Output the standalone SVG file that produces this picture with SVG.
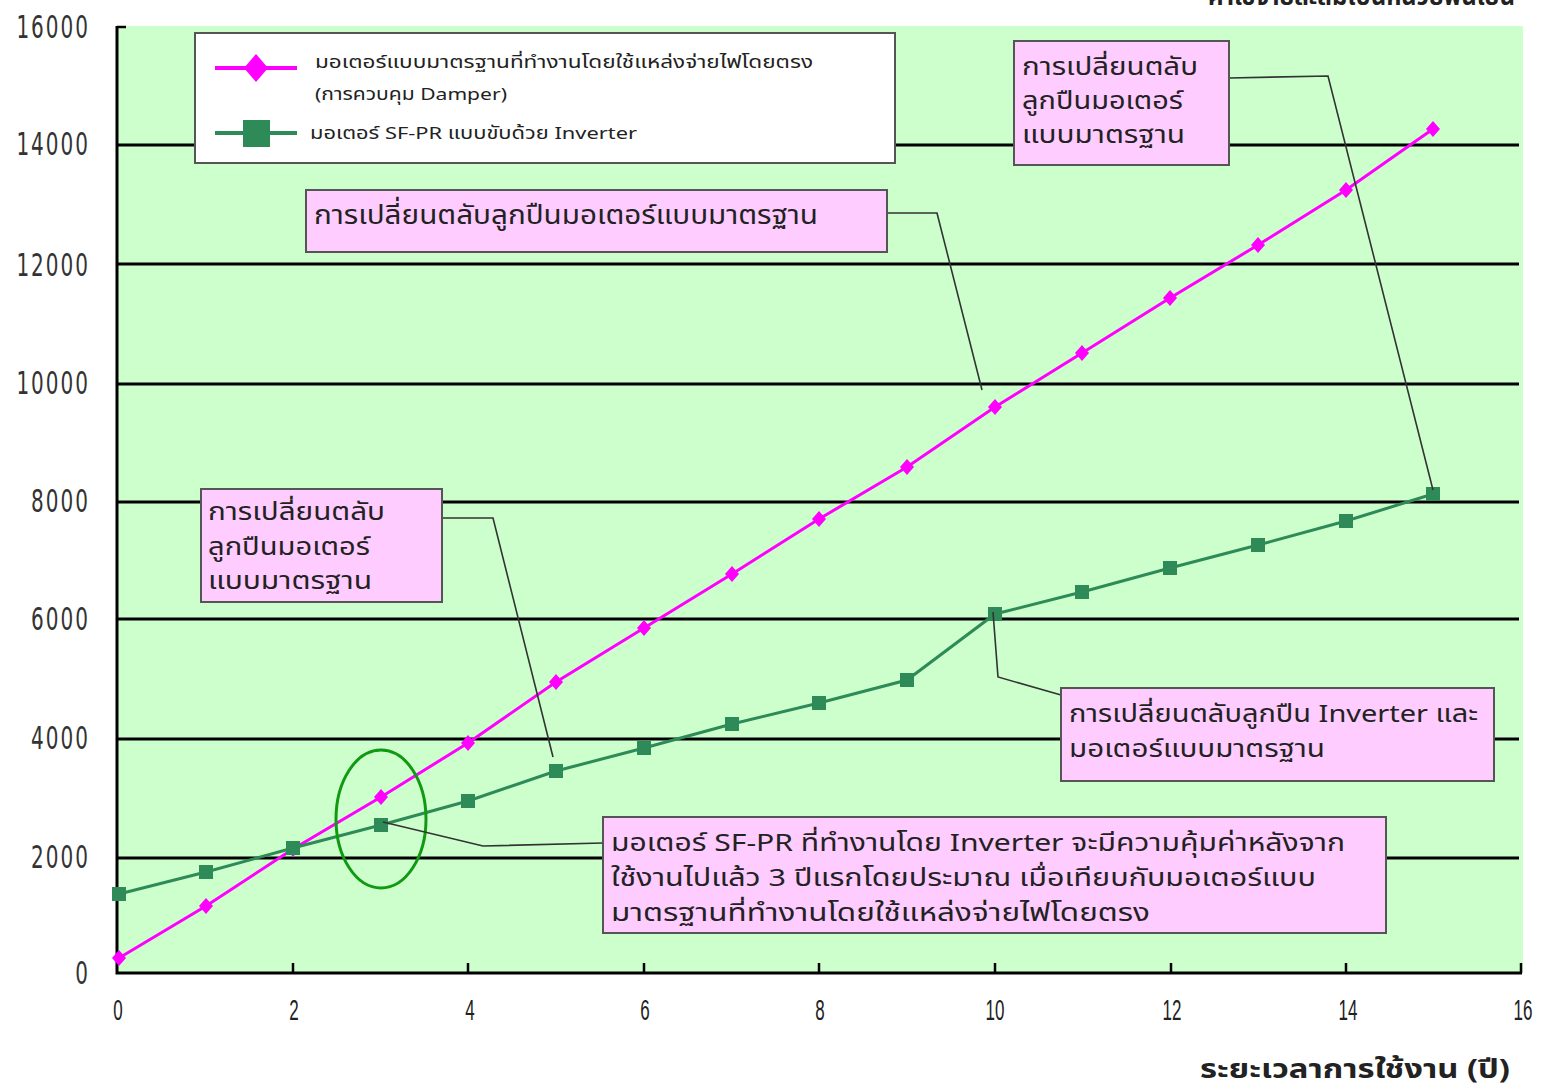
<svg xmlns="http://www.w3.org/2000/svg" width="1544" height="1088" viewBox="0 0 1544 1088">
<style>
.grid{stroke:#000;stroke-width:3}
.axis{stroke:#000;stroke-width:3;fill:none}
.tick{stroke:#000;stroke-width:2.5}
.ylab{font-family:"DejaVu Sans",sans-serif;font-size:20px;fill:#333;letter-spacing:2px;text-anchor:end}
.xlab{font-family:"Liberation Sans",Arial,sans-serif;font-size:17px;fill:#222;text-anchor:middle}
.th{font-family:"Noto Sans Thai","Noto Sans Thai UI","Loma","Tahoma","Noto Sans",sans-serif;fill:#222}
.box{fill:#ffccff;stroke:#555;stroke-width:2}
.conn{stroke:#333;stroke-width:1.6;fill:none}
.mag{stroke:#ff00ff;stroke-width:3;fill:none}
.grn{stroke:#2e8b57;stroke-width:3;fill:none}
.lt{font-size:24px}
.l1{font-size:27px}
.ls{font-size:17px}
</style>
<defs>
<path id="dia" d="M0,-8 L7,0 L0,8 L-7,0 Z" fill="#ff00ff"/>
<rect id="sq" x="-7" y="-7" width="14" height="14" fill="#2e8b57"/>
</defs>
<rect width="1544" height="1088" fill="#fff"/>
<text class="th" x="1515" y="5" text-anchor="end" font-size="24" font-weight="bold" fill="#333">ค่าใช้จ่ายสะสมเป็นหน่วยพันเยน</text>
<g id="plot">
<rect x="117" y="26" width="1406" height="947" fill="#ccffcc"/>
<line class="grid" x1="117" y1="145" x2="1519" y2="145"/>
<line class="grid" x1="117" y1="264" x2="1519" y2="264"/>
<line class="grid" x1="117" y1="384" x2="1519" y2="384"/>
<line class="grid" x1="117" y1="502" x2="1519" y2="502"/>
<line class="grid" x1="117" y1="619" x2="1519" y2="619"/>
<line class="grid" x1="117" y1="739" x2="1519" y2="739"/>
<line class="grid" x1="117" y1="858" x2="1519" y2="858"/>
<line class="tick" x1="117" y1="27" x2="126" y2="27"/>
<polyline class="axis" points="117,26 117,973 1522,973"/>
<g>
<line class="tick" x1="293" y1="963" x2="293" y2="973"/>
<line class="tick" x1="468" y1="963" x2="468" y2="973"/>
<line class="tick" x1="644" y1="963" x2="644" y2="973"/>
<line class="tick" x1="819" y1="963" x2="819" y2="973"/>
<line class="tick" x1="995" y1="963" x2="995" y2="973"/>
<line class="tick" x1="1171" y1="963" x2="1171" y2="973"/>
<line class="tick" x1="1346" y1="963" x2="1346" y2="973"/>
<line class="tick" x1="1521" y1="963" x2="1521" y2="973"/>
</g>
</g>
<g id="y-labels">
<text class="ylab" transform="translate(90,38) scale(1,1.6)">16000</text>
<text class="ylab" transform="translate(90,155) scale(1,1.6)">14000</text>
<text class="ylab" transform="translate(90,276) scale(1,1.6)">12000</text>
<text class="ylab" transform="translate(90,394) scale(1,1.6)">10000</text>
<text class="ylab" transform="translate(90,512) scale(1,1.6)">8000</text>
<text class="ylab" transform="translate(90,630) scale(1,1.6)">6000</text>
<text class="ylab" transform="translate(90,749) scale(1,1.6)">4000</text>
<text class="ylab" transform="translate(90,868) scale(1,1.6)">2000</text>
<text class="ylab" transform="translate(90,984) scale(1,1.6)">0</text>
</g>
<g id="x-labels">
<text class="xlab" transform="translate(118,1020) scale(1,1.7)">0</text>
<text class="xlab" transform="translate(294,1020) scale(1,1.7)">2</text>
<text class="xlab" transform="translate(470,1020) scale(1,1.7)">4</text>
<text class="xlab" transform="translate(645,1020) scale(1,1.7)">6</text>
<text class="xlab" transform="translate(820,1020) scale(1,1.7)">8</text>
<text class="xlab" transform="translate(995,1020) scale(1,1.7)">10</text>
<text class="xlab" transform="translate(1172,1020) scale(1,1.7)">12</text>
<text class="xlab" transform="translate(1348,1020) scale(1,1.7)">14</text>
<text class="xlab" transform="translate(1523,1020) scale(1,1.7)">16</text>
<text class="th" x="1510" y="1078" text-anchor="end" font-size="26" font-weight="bold" textLength="310" lengthAdjust="spacingAndGlyphs">ระยะเวลาการใช้งาน (ปี)</text>
</g>
<g id="series-standard">
<polyline class="mag" points="119,958 206,906 293,849 381,797 468,743 556,682 644,628 732,574 819,519 907,467 995,407 1082,353 1170,298 1258,245 1346,190 1433,129"/>
<use href="#dia" x="119" y="958"/><use href="#dia" x="206" y="906"/><use href="#dia" x="293" y="849"/><use href="#dia" x="381" y="797"/><use href="#dia" x="468" y="743"/><use href="#dia" x="556" y="682"/><use href="#dia" x="644" y="628"/><use href="#dia" x="732" y="574"/><use href="#dia" x="819" y="519"/><use href="#dia" x="907" y="467"/><use href="#dia" x="995" y="407"/><use href="#dia" x="1082" y="353"/><use href="#dia" x="1170" y="298"/><use href="#dia" x="1258" y="245"/><use href="#dia" x="1346" y="190"/><use href="#dia" x="1433" y="129"/>
</g>
<g id="series-inverter">
<polyline class="grn" points="119,894 206,872 293,848 381,825 468,801 556,771 644,748 732,724 819,703 907,680 995,614 1082,592 1170,568 1258,545 1346,521 1433,494"/>
<use href="#sq" x="119" y="894"/><use href="#sq" x="206" y="872"/><use href="#sq" x="293" y="848"/><use href="#sq" x="381" y="825"/><use href="#sq" x="468" y="801"/><use href="#sq" x="556" y="771"/><use href="#sq" x="644" y="748"/><use href="#sq" x="732" y="724"/><use href="#sq" x="819" y="703"/><use href="#sq" x="907" y="680"/><use href="#sq" x="995" y="614"/><use href="#sq" x="1082" y="592"/><use href="#sq" x="1170" y="568"/><use href="#sq" x="1258" y="545"/><use href="#sq" x="1346" y="521"/><use href="#sq" x="1433" y="494"/>
</g>
<g id="highlight">
<ellipse cx="381" cy="819" rx="45" ry="69" fill="none" stroke="#119911" stroke-width="3"/>
</g>
<g id="connectors">
<polyline class="conn" points="1229,78 1328,76 1433,490"/>
<polyline class="conn" points="887,213 937,213 982,390"/>
<polyline class="conn" points="442,518 493,518 553,757"/>
<polyline class="conn" points="993,612 998,677 1061,695"/>
<polyline class="conn" points="383,822 483,846 603,843"/>
</g>
<g id="callout-top-right">
<rect class="box" x="1014" y="41" width="215" height="124"/>
<text class="th lt" x="1022" y="75" textLength="176" lengthAdjust="spacingAndGlyphs">การเปลี่ยนตลับ</text>
<text class="th lt" x="1022" y="109" textLength="161" lengthAdjust="spacingAndGlyphs">ลูกปืนมอเตอร์</text>
<text class="th lt" x="1022" y="143" textLength="163" lengthAdjust="spacingAndGlyphs">แบบมาตรฐาน</text>
</g>
<g id="callout-top">
<rect class="box" x="306" y="190" width="581" height="62"/>
<text class="th l1" x="314" y="224" textLength="504" lengthAdjust="spacingAndGlyphs">การเปลี่ยนตลับลูกปืนมอเตอร์แบบมาตรฐาน</text>
</g>
<g id="callout-left">
<rect class="box" x="201" y="489" width="241" height="113"/>
<text class="th lt" x="208" y="520" textLength="177" lengthAdjust="spacingAndGlyphs">การเปลี่ยนตลับ</text>
<text class="th lt" x="208" y="555" textLength="162" lengthAdjust="spacingAndGlyphs">ลูกปืนมอเตอร์</text>
<text class="th lt" x="208" y="589" textLength="164" lengthAdjust="spacingAndGlyphs">แบบมาตรฐาน</text>
</g>
<g id="callout-right">
<rect class="box" x="1061" y="688" width="433" height="93"/>
<text class="th lt" x="1069" y="722" textLength="409" lengthAdjust="spacingAndGlyphs">การเปลี่ยนตลับลูกปืน Inverter และ</text>
<text class="th lt" x="1069" y="757" textLength="256" lengthAdjust="spacingAndGlyphs">มอเตอร์แบบมาตรฐาน</text>
</g>
<g id="callout-bottom">
<rect class="box" x="603" y="817" width="783" height="116"/>
<text class="th lt" x="611" y="851" textLength="734" lengthAdjust="spacingAndGlyphs">มอเตอร์ SF-PR ที่ทำงานโดย Inverter จะมีความคุ้มค่าหลังจาก</text>
<text class="th lt" x="611" y="886" textLength="705" lengthAdjust="spacingAndGlyphs">ใช้งานไปแล้ว 3 ปีแรกโดยประมาณ เมื่อเทียบกับมอเตอร์แบบ</text>
<text class="th lt" x="611" y="921" textLength="539" lengthAdjust="spacingAndGlyphs">มาตรฐานที่ทำงานโดยใช้แหล่งจ่ายไฟโดยตรง</text>
</g>
<g id="legend">
<rect x="195" y="33" width="700" height="130" fill="#fff" stroke="#555" stroke-width="2"/>
<line x1="215" y1="68" x2="297" y2="68" stroke="#ff00ff" stroke-width="4"/>
<path d="M256,54 L268,68 L256,82 L244,68 Z" fill="#ff00ff"/>
<text class="th ls" x="315" y="68" textLength="498" lengthAdjust="spacingAndGlyphs">มอเตอร์แบบมาตรฐานที่ทำงานโดยใช้แหล่งจ่ายไฟโดยตรง</text>
<text class="th ls" x="315" y="100" textLength="192" lengthAdjust="spacingAndGlyphs">(การควบคุม Damper)</text>
<line x1="215" y1="133" x2="297" y2="133" stroke="#2e8b57" stroke-width="4"/>
<rect x="243" y="120" width="27" height="27" fill="#2e8b57"/>
<text class="th ls" x="310" y="139" textLength="327" lengthAdjust="spacingAndGlyphs">มอเตอร์ SF-PR แบบขับด้วย  Inverter</text>
</g>
</svg>
